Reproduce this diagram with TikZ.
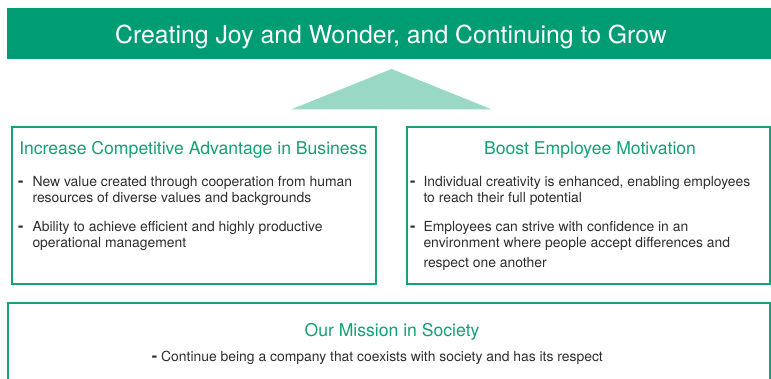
\documentclass[tikz,border=0pt]{standalone}
\usepackage{fontspec}
\setmainfont{TeX Gyre Heros}

\definecolor{banner}{RGB}{0,156,115}
\definecolor{frame}{RGB}{24,162,122}
\definecolor{heading}{RGB}{18,160,116}
\definecolor{roof}{RGB}{152,216,196}
\definecolor{body}{RGB}{45,45,45}

\tikzset{
  boxline/.style={draw=frame, line width=2pt},
  headtext/.style={inner sep=0, anchor=base, text=heading,
    font=\fontsize{17.6}{20}\selectfont},
  itemtext/.style={inner sep=0, anchor=base west, text=body, align=left,
    font=\fontsize{13.9}{15.5}\selectfont},
  dashtext/.style={inner sep=0, anchor=base west, text=body,
    font=\fontsize{16}{16}\selectfont\bfseries},
}

\begin{document}
\begin{tikzpicture}[x=1pt,y=-1pt]
  \useasboundingbox (0,0) rectangle (771,379);
  \clip (0,0) rectangle (771,379);
  \begin{scope}

    \def\Ax{12};    \def\Bx{375.7};   % left box
    \def\Cx{407};   \def\Dx{769.7};   % right box
    \def\Ey{127};   \def\Fy{284.5};   % top and bottom of both boxes
    \def\Gx{8};     \def\Gy{303};     % mission box
    \def\Ty{155};   % baseline of the box titles
    \def\Iy{186.7}; % first item, first line
    \def\Ky{231.7}; % second item, first line
    \def\ls{15.5};  % line step

    \coordinate (A) at (\Ax,\Ey);
    \coordinate (B) at (\Bx,\Fy);
    \coordinate (C) at (\Cx,\Ey);
    \coordinate (D) at (\Dx,\Fy);
    \coordinate (G) at (\Gx,\Gy);
    \coordinate (H) at (\Dx,395);

    % banner and roof
    \fill[banner] (7,8) rectangle (780,59);
    \node[inner sep=0, anchor=base, text=white, font=\fontsize{24.8}{28}\selectfont]
      (goal) at (391,44) {Creating Joy and Wonder, and Continuing to Grow};
    \fill[roof] (291,109.5) -- (391.5,69) -- (492,109.5) -- cycle;

    \draw[boxline] (A) rectangle (B);
    \draw[boxline] (C) rectangle (D);
    \draw[boxline] (G) rectangle (H);

    % left box (items sit on the baseline of their last line)
    \node[headtext] (business) at (193.3,\Ty) {Increase Competitive Advantage in Business};
    \node[dashtext] (bdash1) at (18,\Iy) {-};
    \node[itemtext] (bitem1) at (32.3,\Iy+\ls) {New value created through cooperation from human\\resources of diverse values and backgrounds};
    \node[dashtext] (bdash2) at (18,\Ky) {-};
    \node[itemtext] (bitem2) at (32.3,\Ky+\ls) {Ability to achieve efficient and highly productive\\operational management};

    % right box
    \node[headtext] (motivation) at (590,\Ty) {Boost Employee Motivation};
    \node[dashtext] (mdash1) at (410,\Iy) {-};
    \node[itemtext] (mitem1) at (423.3,\Iy+\ls) {Individual creativity is enhanced, enabling employees\\to reach their full potential};
    \node[dashtext] (mdash2) at (410,\Ky) {-};
    \node[itemtext] (mitem2) at (423.3,\Ky+2*\ls+5) {Employees can strive with confidence in an\\environment where people accept differences and\\[5pt]respect one another};

    % bottom box
    \node[headtext] (mission) at (392,336.7) {Our Mission in Society};
    \node[dashtext] (sdash) at (151.7,361) {-};
    \node[itemtext] (sitem) at (161,361) {Continue being a company that coexists with society and has its respect};

  \end{scope}
\end{tikzpicture}
\end{document}
